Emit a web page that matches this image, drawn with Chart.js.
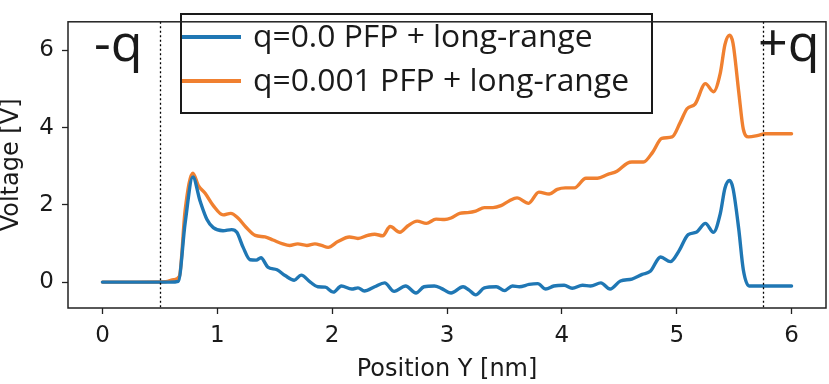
<!DOCTYPE html>
<html>
<head>
<meta charset="utf-8">
<script src="https://cdn.jsdelivr.net/npm/chart.js@4"></script>
<style>
  html, body { margin: 0; padding: 0; background: #fff; }
  #wrap { width: 829px; height: 384px; position: relative; }
</style>
</head>
<body>
<div id="wrap"><canvas id="voltChart"></canvas></div>
<script>
// values
const blueLabel = 'q=0.0 PFP + long-range';
const bluePos = [0, 0.3, 0.59, 0.66, 0.72, 0.787, 0.85, 0.91, 0.965, 1.05, 1.125, 1.17, 1.225, 1.285, 1.34, 1.38, 1.44, 1.52, 1.59, 1.67, 1.73, 1.81, 1.875, 1.94, 2.01, 2.08, 2.17, 2.225, 2.28, 2.37, 2.457, 2.54, 2.64, 2.73, 2.80, 2.89, 2.95, 3.035, 3.14, 3.19, 3.25, 3.325, 3.43, 3.50, 3.57, 3.63, 3.715, 3.79, 3.86, 3.93, 4.02, 4.09, 4.18, 4.25, 4.34, 4.42, 4.51, 4.61, 4.70, 4.77, 4.86, 4.945, 5.02, 5.10, 5.17, 5.25, 5.32, 5.38, 5.42, 5.46, 5.49, 5.54, 5.58, 5.63, 5.8, 6.0];
const blueVolt = [0, 0, 0, 0.02, 1.53, 2.72, 2.1, 1.62, 1.41, 1.33, 1.36, 1.29, 0.9, 0.58, 0.57, 0.63, 0.39, 0.32, 0.17, 0.05, 0.18, 0.0, -0.12, -0.13, -0.26, -0.1, -0.18, -0.15, -0.23, -0.12, -0.02, -0.24, -0.1, -0.28, -0.12, -0.1, -0.16, -0.28, -0.12, -0.2, -0.33, -0.15, -0.12, -0.22, -0.1, -0.12, -0.06, -0.04, -0.18, -0.1, -0.08, -0.16, -0.08, -0.1, -0.02, -0.18, 0.03, 0.08, 0.2, 0.28, 0.65, 0.53, 0.81, 1.23, 1.29, 1.52, 1.29, 1.78, 2.43, 2.63, 2.43, 1.38, 0.32, -0.1, -0.1, -0.1];

const orangeLabel = 'q=0.001 PFP + long-range';
const orangePos = [0, 0.3, 0.55, 0.62, 0.67, 0.72, 0.787, 0.835, 0.894, 0.965, 1.05, 1.117, 1.18, 1.25, 1.33, 1.415, 1.485, 1.57, 1.63, 1.70, 1.78, 1.85, 1.907, 1.965, 2.05, 2.15, 2.225, 2.31, 2.37, 2.44, 2.505, 2.59, 2.66, 2.74, 2.82, 2.905, 2.98, 3.035, 3.11, 3.18, 3.25, 3.325, 3.40, 3.47, 3.54, 3.61, 3.71, 3.80, 3.89, 3.96, 4.03, 4.11, 4.21, 4.31, 4.40, 4.48, 4.57, 4.61, 4.71, 4.79, 4.87, 4.96, 5.03, 5.09, 5.16, 5.25, 5.32, 5.38, 5.42, 5.46, 5.49, 5.54, 5.58, 5.625, 5.71, 5.77, 6.0];
const orangeVolt = [0, 0, 0.01, 0.06, 0.15, 1.86, 2.82, 2.5, 2.3, 1.98, 1.74, 1.78, 1.66, 1.42, 1.21, 1.17, 1.09, 0.99, 0.95, 0.99, 0.95, 0.99, 0.95, 0.9, 1.05, 1.17, 1.13, 1.21, 1.24, 1.2, 1.44, 1.29, 1.46, 1.58, 1.52, 1.63, 1.62, 1.66, 1.78, 1.80, 1.84, 1.93, 1.93, 1.98, 2.1, 2.18, 2.04, 2.33, 2.28, 2.4, 2.44, 2.44, 2.69, 2.69, 2.79, 2.87, 3.08, 3.11, 3.11, 3.36, 3.72, 3.76, 4.13, 4.49, 4.61, 5.14, 4.93, 5.42, 6.15, 6.39, 6.19, 4.93, 3.96, 3.76, 3.80, 3.84, 3.84];

const xTicks = [0, 1, 2, 3, 4, 5, 6];
const yTicks = [0, 2, 4, 6];
const electrodePos = [0.5, 5.75];
const electrodeText = ['-q', '+q'];

const AXFONT = "'DejaVu Sans', sans-serif";
const BIGFONT = "'Open Sans', 'Noto Sans', sans-serif";
const BLUE = '#1f77b4';
const ORANGE = '#f08030';
const INK = '#1a1a1a';

const toPoints = (xs, ys) => xs.map((x, i) => ({ x: x, y: ys[i] }));

// frame, dotted electrode lines, -q / +q labels and the boxed legend
const decor = {
    id: 'decor',
    afterDatasetsDraw(chart) {
        const { ctx, chartArea: a, scales } = chart;
        ctx.save();
        ctx.strokeStyle = '#000';
        ctx.lineWidth = 1.3;
        ctx.setLineDash([2, 2.5]);
        electrodePos.forEach(p => {
            const px = Math.round(scales.x.getPixelForValue(p)) + 0.5;
            ctx.beginPath();
            ctx.moveTo(px, a.top);
            ctx.lineTo(px, a.bottom);
            ctx.stroke();
        });
        ctx.setLineDash([]);

        ctx.fillStyle = INK;
        ctx.font = '52px ' + BIGFONT;
        ctx.textBaseline = 'alphabetic';
        ctx.textAlign = 'left';
        ctx.fillText(electrodeText[0], 94, 61);
        ctx.fillText(electrodeText[1], 758, 61);

        // legend box
        const lx = 181, ly = 14, lw = 471, lh = 99;
        ctx.fillStyle = '#fff';
        ctx.fillRect(lx, ly, lw, lh);
        ctx.strokeStyle = INK;
        ctx.lineWidth = 2;
        ctx.strokeRect(lx, ly, lw, lh);
        ctx.font = '31px ' + BIGFONT;
        ctx.textBaseline = 'middle';
        const widest = Math.max(...chart.data.datasets.map(ds => ctx.measureText(ds.label).width));
        const sx = 376 / widest;
        chart.data.datasets.forEach((ds, i) => {
            const y = ly + 23 + i * 44;
            ctx.strokeStyle = ds.borderColor;
            ctx.lineWidth = 4;
            ctx.beginPath();
            ctx.moveTo(lx + 1, y);
            ctx.lineTo(lx + 60, y);
            ctx.stroke();
            ctx.save();
            ctx.translate(lx + 72, y + 1);
            ctx.scale(sx, 1);
            ctx.fillStyle = INK;
            ctx.fillText(ds.label, 0, 0);
            ctx.restore();
        });

        ctx.strokeStyle = '#222';
        ctx.lineWidth = 1.5;
        ctx.strokeRect(a.left, a.top, a.right - a.left, a.bottom - a.top);
        ctx.restore();
    }
};

new Chart(document.getElementById('voltChart'), {
    type: 'line',
    data: {
        datasets: [
            { label: blueLabel, data: toPoints(bluePos, blueVolt), borderColor: BLUE, borderWidth: 3.4 },
            { label: orangeLabel, data: toPoints(orangePos, orangeVolt), borderColor: ORANGE, borderWidth: 3.4 }
        ]
    },
    options: {
        responsive: true,
        maintainAspectRatio: false,
        animation: false,
        parsing: false,
        layout: { padding: { top: 2, right: 3, left: 0, bottom: 0 } },
        elements: {
            point: { radius: 0 },
            line: { cubicInterpolationMode: 'monotone', fill: false, borderJoinStyle: 'round', borderCapStyle: 'round' }
        },
        plugins: { legend: { display: false }, tooltip: { enabled: false } },
        scales: {
            x: {
                type: 'linear',
                min: -0.3,
                max: 6.3,
                afterBuildTicks: s => { s.ticks = xTicks.map(v => ({ value: v })); },
                afterFit: s => { s.height = 76; },
                grid: { drawOnChartArea: false, tickLength: 6, tickColor: '#222', tickWidth: 1.3 },
                border: { display: false },
                ticks: { color: INK, font: { family: AXFONT, size: 23 }, padding: 8 },
                title: { display: true, text: 'Position Y [nm]', color: INK, font: { family: AXFONT, size: 24, lineHeight: 1.2 }, padding: { top: 0, bottom: 0 } }
            },
            y: {
                min: -0.67,
                max: 6.74,
                afterBuildTicks: s => { s.ticks = yTicks.map(v => ({ value: v })); },
                afterFit: s => { s.width = 68; },
                grid: { drawOnChartArea: false, tickLength: 6, tickColor: '#222', tickWidth: 1.3 },
                border: { display: false },
                ticks: { color: INK, font: { family: AXFONT, size: 23 }, padding: 8 },
                title: { display: true, text: 'Voltage [V]', color: INK, font: { family: AXFONT, size: 24, lineHeight: 1.0 }, padding: { top: 0, bottom: 0 } }
            }
        }
    },
    plugins: [decor]
});
</script>
</body>
</html>
